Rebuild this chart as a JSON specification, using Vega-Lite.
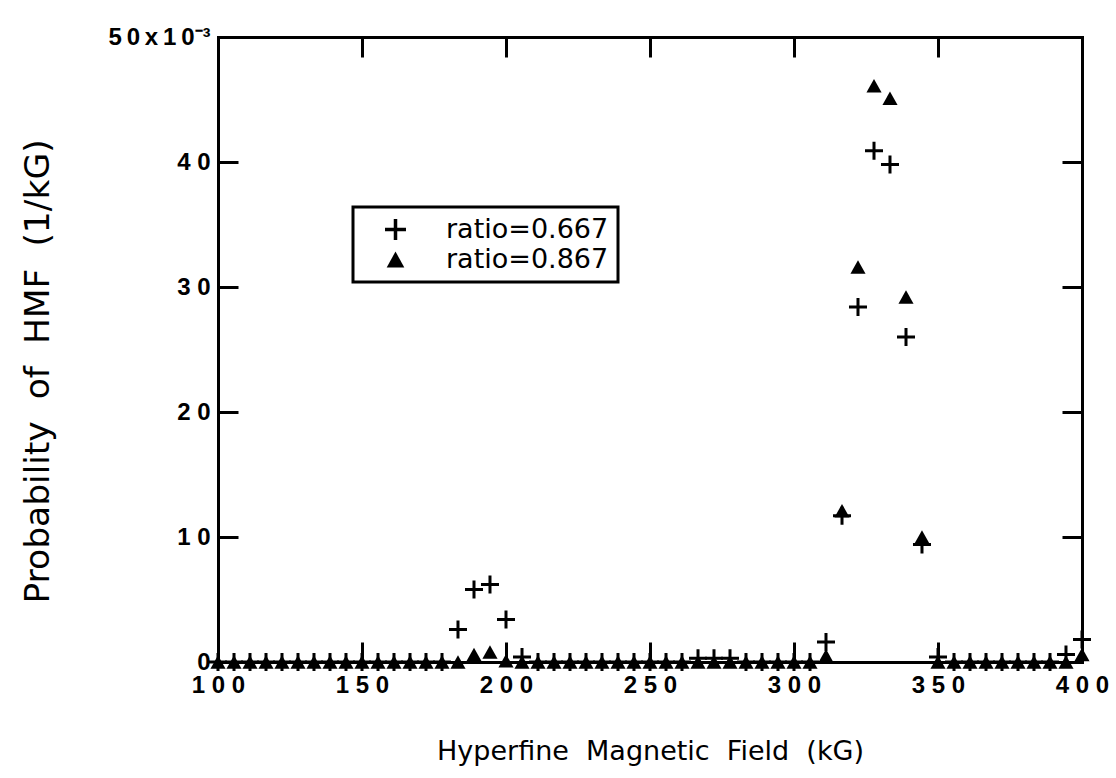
{
  "$schema": "https://vega.github.io/schema/vega-lite/v6.json",
  "width": 864,
  "height": 625,
  "autosize": {"type": "none"},
  "padding": {"left": 218, "top": 37, "right": 34, "bottom": 116},
  "background": "white",
  "config": {
    "view": {"stroke": null},
    "axis": {
      "grid": false,
      "domainColor": "black",
      "domainWidth": 3,
      "domainCap": "square",
      "tickColor": "black",
      "tickWidth": 3,
      "tickSize": -20,
      "labelColor": "black",
      "labelFont": "Liberation Sans",
      "labelFontWeight": "bold",
      "labelFontSize": 24,
      "labelFlush": false,
      "labelOverlap": false,
      "titleColor": "black",
      "titleFont": "DejaVu Sans",
      "titleFontWeight": "normal"
    },
    "legend": {"strokeWidth": 3}
  },
  "data": {
    "values": [
      {"B": 100, "a": 0, "b": 0},
      {"B": 105.56, "a": 0, "b": 0},
      {"B": 111.11, "a": 0, "b": 0},
      {"B": 116.67, "a": 0, "b": 0},
      {"B": 122.22, "a": 0, "b": 0},
      {"B": 127.78, "a": 0, "b": 0},
      {"B": 133.33, "a": 0, "b": 0},
      {"B": 138.89, "a": 0, "b": 0},
      {"B": 144.44, "a": 0, "b": 0},
      {"B": 150, "a": 0, "b": 0},
      {"B": 155.56, "a": 0, "b": 0},
      {"B": 161.11, "a": 0, "b": 0},
      {"B": 166.67, "a": 0, "b": 0},
      {"B": 172.22, "a": 0, "b": 0},
      {"B": 177.78, "a": 0, "b": 0},
      {"B": 183.33, "a": 2.6, "b": 0},
      {"B": 188.89, "a": 5.8, "b": 0.6},
      {"B": 194.44, "a": 6.2, "b": 0.8},
      {"B": 200, "a": 3.4, "b": 0.1},
      {"B": 205.56, "a": 0.4, "b": 0},
      {"B": 211.11, "a": 0, "b": 0},
      {"B": 216.67, "a": 0, "b": 0},
      {"B": 222.22, "a": 0, "b": 0},
      {"B": 227.78, "a": 0, "b": 0},
      {"B": 233.33, "a": 0, "b": 0},
      {"B": 238.89, "a": 0, "b": 0},
      {"B": 244.44, "a": 0, "b": 0},
      {"B": 250, "a": 0, "b": 0},
      {"B": 255.56, "a": 0, "b": 0},
      {"B": 261.11, "a": 0, "b": 0},
      {"B": 266.67, "a": 0.3, "b": 0},
      {"B": 272.22, "a": 0.3, "b": 0},
      {"B": 277.78, "a": 0.3, "b": 0},
      {"B": 283.33, "a": 0, "b": 0},
      {"B": 288.89, "a": 0, "b": 0},
      {"B": 294.44, "a": 0, "b": 0},
      {"B": 300, "a": 0, "b": 0},
      {"B": 305.56, "a": 0, "b": 0},
      {"B": 311.11, "a": 1.6, "b": 0.5},
      {"B": 316.67, "a": 11.7, "b": 12.1},
      {"B": 322.22, "a": 28.4, "b": 31.6},
      {"B": 327.78, "a": 40.9, "b": 46.1},
      {"B": 333.33, "a": 39.8, "b": 45.1},
      {"B": 338.89, "a": 26.0, "b": 29.2},
      {"B": 344.44, "a": 9.4, "b": 10.0},
      {"B": 350, "a": 0.4, "b": 0},
      {"B": 355.56, "a": 0, "b": 0},
      {"B": 361.11, "a": 0, "b": 0},
      {"B": 366.67, "a": 0, "b": 0},
      {"B": 372.22, "a": 0, "b": 0},
      {"B": 377.78, "a": 0, "b": 0},
      {"B": 383.33, "a": 0, "b": 0},
      {"B": 388.89, "a": 0, "b": 0},
      {"B": 394.44, "a": 0.6, "b": 0},
      {"B": 400, "a": 1.8, "b": 0.6}
    ]
  },
  "transform": [{"fold": ["a", "b"], "as": ["series", "p"]}],
  "layer": [
    {
      "mark": {"type": "point", "filled": true, "color": "black", "opacity": 1, "size": 324},
      "encoding": {
        "x": {
          "field": "B", "type": "quantitative",
          "scale": {"domain": [100, 400], "nice": false, "zero": false},
          "axis": {
            "orient": "bottom",
            "values": [100, 150, 200, 250, 300, 350, 400],
            "labelPadding": 31,
            "labelExpr": "join(split(datum.label, ''), ' ')",
            "title": "Hyperfine\u00a0\u00a0Magnetic\u00a0\u00a0Field\u00a0\u00a0(kG)",
            "titleFontSize": 27,
            "titleY": 97,
            "titleBaseline": "alphabetic"
          }
        },
        "y": {
          "field": "p", "type": "quantitative",
          "scale": {"domain": [0, 50], "nice": false},
          "axis": {
            "orient": "left",
            "values": [0, 10, 20, 30, 40, 50],
            "labelPadding": 28,
            "labelExpr": "datum.value == 50 ? '5\u20090\u2009x\u20091\u20090⁻³\u2009' : join(split(datum.label, ''), ' ')",
            "title": "Probability\u00a0\u00a0of\u00a0\u00a0HMF\u00a0\u00a0(1/kG)",
            "titleFontSize": 34.5,
            "titleAngle": -90,
            "titleX": -180,
            "titleY": 334,
            "titleAlign": "center",
            "titleBaseline": "middle"
          }
        },
        "shape": {
          "field": "series", "type": "nominal",
          "scale": {"domain": ["a", "b"], "range": ["M-1,-0.167H-0.167V-1H0.167V-0.167H1V0.167H0.167V1H-0.167V0.167H-1Z", "M0,-0.76L0.84,0.76L-0.84,0.76Z"]},
          "legend": {
            "orient": "none",
            "legendX": 135,
            "legendY": 170,
            "title": null,
            "labelExpr": "datum.value == 'a' ? 'ratio=0.667' : 'ratio=0.867'",
            "labelLimit": 0,
            "strokeColor": "black",
            "padding": 9,
            "symbolSize": 440,
            "symbolFillColor": "black",
            "symbolStrokeWidth": 0,
            "symbolOpacity": 1,
            "symbolOffset": 20,
            "labelOffset": 37,
            "labelFont": "DejaVu Sans",
            "labelFontSize": 27,
            "labelColor": "black",
            "rowPadding": 2
          }
        }
      }
    },
    {
      "mark": {"type": "point", "opacity": 0},
      "encoding": {
        "x": {
          "field": "B", "type": "quantitative",
          "axis": {"orient": "top", "values": [150, 200, 250, 300, 350], "labels": false, "title": null}
        },
        "y": {
          "field": "p", "type": "quantitative",
          "axis": {"orient": "right", "values": [10, 20, 30, 40], "labels": false, "title": null}
        }
      }
    }
  ],
  "resolve": {"axis": {"x": "independent", "y": "independent"}}
}
